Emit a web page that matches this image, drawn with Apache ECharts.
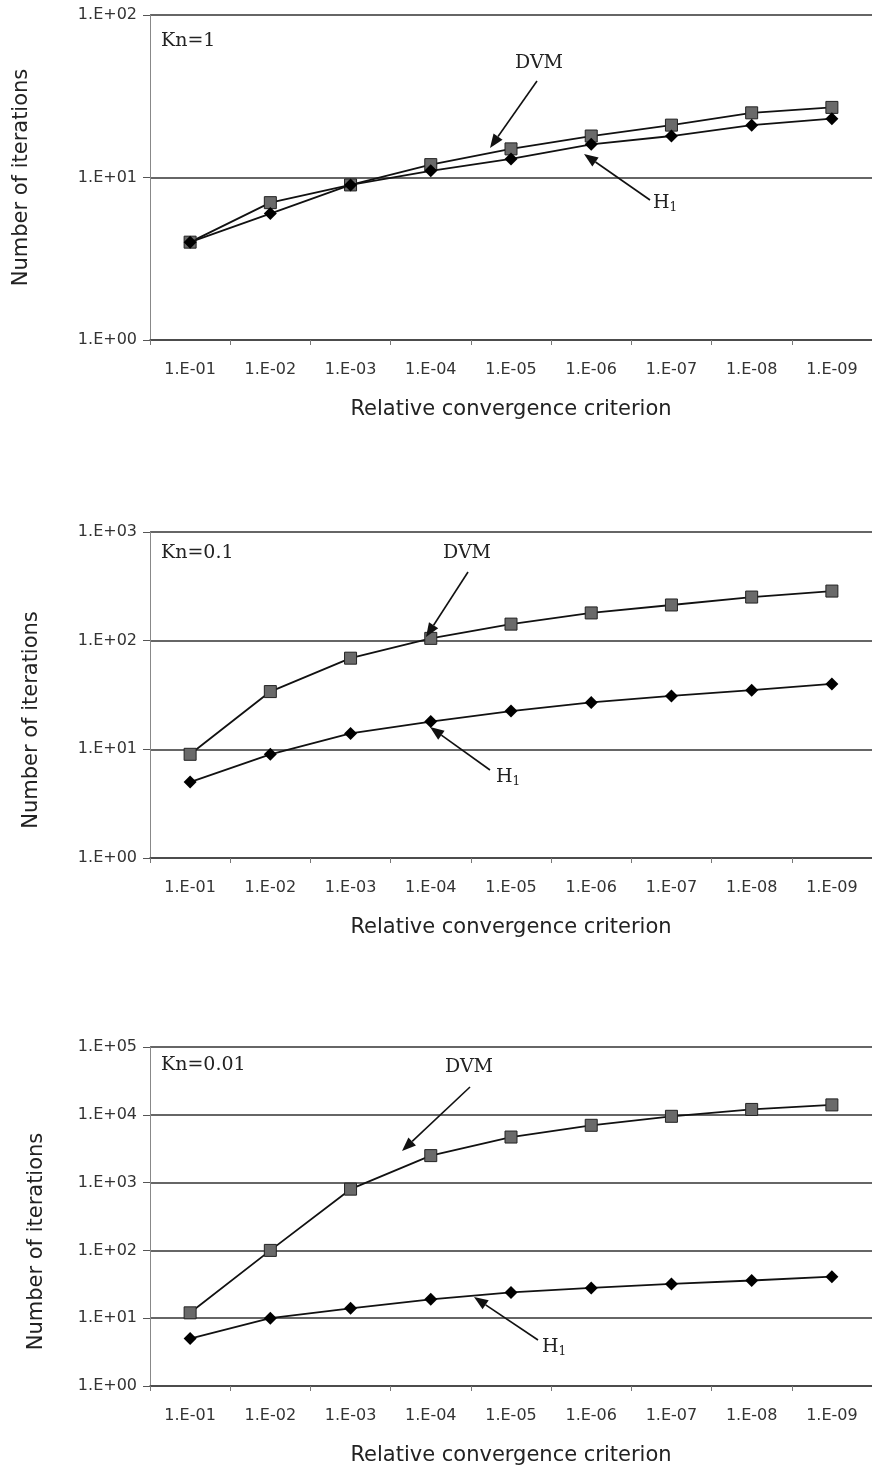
<!DOCTYPE html>
<html>
<head>
<meta charset="utf-8">
<script src="https://cdn.jsdelivr.net/npm/echarts@6/dist/echarts.min.js"></script>
<style>
  html, body { margin: 0; padding: 0; background: #fff; }
  #chart { width: 872px; height: 1470px; }
</style>
</head>
<body>
<div id="chart"></div>
<script>
// x categories (relative convergence criterion)
const criteria = ['1.E-01', '1.E-02', '1.E-03', '1.E-04', '1.E-05', '1.E-06', '1.E-07', '1.E-08', '1.E-09'];

// Kn = 1
const dvmKn1 = [4, 7, 9, 12, 15, 18, 21, 25, 27];
const h1Kn1 = [4, 6, 9, 11, 13, 16, 18, 21, 23];

// Kn = 0.1
const dvmKn01 = [9, 34, 69, 105, 142, 180, 213, 252, 286];
const h1Kn01 = [5, 9, 14, 18, 22.5, 27, 31, 35, 40];

// Kn = 0.01
const dvmKn001 = [12, 100, 800, 2500, 4700, 7000, 9500, 12000, 14000];
const h1Kn001 = [5, 10, 14, 19, 24, 28, 32, 36, 41];

const panelTitles = ['Kn=1', 'Kn=0.1', 'Kn=0.01'];
const yMax = [100, 1000, 100000];

const sans = '"DejaVu Sans", "Liberation Sans", sans-serif';
const serif = '"DejaVu Serif", "Liberation Serif", serif';

const chart = echarts.init(document.getElementById('chart'));

// panel boxes (pixels)
const panels = [
  { top: 15, height: 325, nameGap: 118, namePad: 0 },
  { top: 532, height: 326, nameGap: 108, namePad: 50 },
  { top: 1047, height: 339, nameGap: 103, namePad: 50 },
];

const expLabel = (v) => {
  const e = Math.round(Math.log10(v));
  const s = String(Math.abs(e)).padStart(2, '0');
  return '1.E' + (e < 0 ? '-' : '+') + s;
};

const grids = panels.map((p) => ({ left: 150, right: -10, top: p.top, height: p.height }));

const xAxes = panels.map((p, i) => ({
  type: 'category',
  gridIndex: i,
  data: criteria,
  boundaryGap: true,
  name: 'Relative convergence criterion',
  nameLocation: 'middle',
  nameGap: 59,
  nameTextStyle: { fontFamily: sans, fontSize: 21, color: '#222' },
  axisLine: { lineStyle: { color: '#444', width: 1.5 } },
  axisTick: { show: true, interval: 0, length: 5, lineStyle: { color: '#777' } },
  axisLabel: { interval: 0, margin: 22, fontFamily: sans, fontSize: 16, color: '#333' },
  splitLine: { show: false },
}));

const yAxes = panels.map((p, i) => ({
  type: 'log',
  logBase: 10,
  gridIndex: i,
  min: 1,
  max: yMax[i],
  name: 'Number of iterations',
  nameLocation: 'middle',
  nameGap: p.nameGap,
  nameTextStyle: { fontFamily: sans, fontSize: 21, color: '#222', padding: [0, p.namePad, 0, 0] },
  axisLine: { show: true, lineStyle: { color: '#888', width: 1 } },
  axisTick: { show: true, length: 7, lineStyle: { color: '#555' } },
  axisLabel: { margin: 13, fontFamily: sans, fontSize: 16, color: '#333', formatter: expLabel },
  splitLine: { show: true, lineStyle: { color: '#333', width: 1.5 } },
}));

const dvmData = [dvmKn1, dvmKn01, dvmKn001];
const h1Data = [h1Kn1, h1Kn01, h1Kn001];

const series = [];
panels.forEach((p, i) => {
  series.push({
    name: 'DVM',
    type: 'line',
    xAxisIndex: i,
    yAxisIndex: i,
    data: dvmData[i],
    symbol: 'rect',
    symbolSize: 12,
    lineStyle: { color: '#111', width: 1.8 },
    itemStyle: { color: '#6a6a6a', borderColor: '#222', borderWidth: 1 },
    z: 3,
  });
  series.push({
    name: 'H1',
    type: 'line',
    xAxisIndex: i,
    yAxisIndex: i,
    data: h1Data[i],
    symbol: 'diamond',
    symbolSize: 13,
    lineStyle: { color: '#111', width: 1.8 },
    itemStyle: { color: '#000' },
    z: 4,
  });
});

// annotation arrows: [tailX, tailY, tipX, tipY]
const arrows = [
  [537, 81, 490, 148],
  [650, 200, 584, 154],
  [468, 572, 426, 637],
  [490, 770, 430, 727],
  [470, 1087, 402, 1151],
  [538, 1340, 474, 1297],
];

const graphic = [];
arrows.forEach(([x1, y1, x2, y2]) => {
  const ang = Math.atan2(y2 - y1, x2 - x1);
  const L = 14, W = 5.5;
  const bx = x2 - L * Math.cos(ang), by = y2 - L * Math.sin(ang);
  graphic.push({
    type: 'line',
    shape: { x1: x1, y1: y1, x2: bx, y2: by },
    style: { stroke: '#111', lineWidth: 1.6 },
    z: 10,
  });
  graphic.push({
    type: 'polygon',
    shape: {
      points: [
        [x2, y2],
        [bx + W * Math.sin(ang), by - W * Math.cos(ang)],
        [bx - W * Math.sin(ang), by + W * Math.cos(ang)],
      ],
    },
    style: { fill: '#111' },
    z: 10,
  });
});

const texts = [
  { x: 161, y: 41, t: panelTitles[0] },
  { x: 161, y: 553, t: panelTitles[1] },
  { x: 161, y: 1065, t: panelTitles[2] },
  { x: 515, y: 63, t: 'DVM' },
  { x: 443, y: 553, t: 'DVM' },
  { x: 445, y: 1067, t: 'DVM' },
];
texts.forEach((d) => {
  graphic.push({
    type: 'text',
    x: d.x,
    y: d.y,
    style: { text: d.t, font: '19px ' + serif, fill: '#222', verticalAlign: 'middle' },
    z: 10,
  });
});

// H1 labels with subscript
[[653, 203], [496, 777], [542, 1347]].forEach(([x, y]) => {
  graphic.push({
    type: 'text',
    x: x,
    y: y,
    style: {
      text: '{h|H}{s|1}',
      verticalAlign: 'middle',
      rich: {
        h: { fontFamily: serif, fontSize: 19, fill: '#222' },
        s: { fontFamily: serif, fontSize: 12, fill: '#222', verticalAlign: 'bottom', padding: [9, 0, 0, 0] },
      },
    },
    z: 10,
  });
});

chart.setOption({
  backgroundColor: '#fff',
  animation: false,
  grid: grids,
  xAxis: xAxes,
  yAxis: yAxes,
  series: series,
  graphic: graphic,
});
</script>
</body>
</html>
